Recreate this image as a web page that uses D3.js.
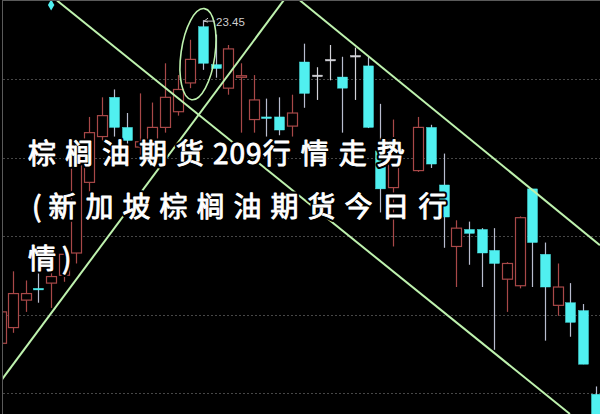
<!DOCTYPE html>
<html><head><meta charset="utf-8">
<script src="https://cdn.jsdelivr.net/npm/d3@7"></script>
<style>html,body{margin:0;padding:0;background:#000;overflow:hidden}</style>
</head><body>
<svg id="c" width="600" height="414"></svg>
<script>
// ---- data (price units) ----
const opens  = [20.98,21.10,21.31,21.40,21.44,21.50,21.67,22.21,22.56,22.86,22.63,22.48,22.53,22.63,22.75,22.97,23.40,23.11,22.93,23.02,22.69,22.71,22.71,22.64,23.13,23.03,23.15,23.015,23.18,23.10,22.45,22.17,null,22.30,22.63,22.19,21.72,21.85,21.85,21.69,21.47,21.42,22.16,21.66,21.27,21.29,21.23,20.59];
const highs  = [21.27,21.53,21.46,21.56,21.67,21.73,22.51,22.71,22.86,22.92,22.74,22.89,22.82,23.12,23.03,23.30,23.45,23.34,23.26,23.12,23.03,22.85,22.86,22.88,23.27,23.09,23.26,23.17,23.24,23.17,22.81,22.69,null,22.71,22.65,22.43,21.92,21.91,21.86,21.86,21.60,21.95,22.16,21.75,21.59,21.44,21.28,20.65];
const lows   = [20.97,21.06,21.22,21.29,21.25,21.45,21.59,22.08,22.53,22.56,22.47,22.42,22.47,22.59,22.72,22.93,23.07,23.01,22.88,22.59,22.59,22.56,22.57,22.56,22.78,22.84,22.99,22.59,22.84,22.625,21.98,21.72,null,22.29,22.32,21.71,21.41,21.58,21.41,20.93,21.22,21.40,21.41,21.00,21.19,21.03,20.82,20.39];
const closes = [21.22,21.36,21.36,21.395,21.49,21.66,22.36,22.59,22.72,22.63,22.53,22.52,22.63,22.86,22.92,23.15,23.12,23.08,23.23,23.025,22.84,22.705,22.61,22.74,22.89,23.03,23.15,22.93,23.18,22.63,22.16,22.53,null,22.63,22.35,21.945,21.86,21.82,21.67,21.59,21.59,21.94,21.75,21.41,21.41,21.14,20.82,20.39];
const gridValues = [23.0, 22.4, 21.8, 21.2, 20.6];
const highLabel = "23.45";
const highIndex = 16;
// trend lines in (index, price)
const trendLines = [
  [[4.46, 23.60], [44.98, 20.44]],
  [[23.66, 23.60], [47.35, 21.73]],
  [[-0.04, 20.684], [22.39, 23.604]]
];
const ellipseCenter = [15.6, 23.19];
const titleLines = [
  [["棕榈油期货", 9], ["209", 1], ["行情走势", 10]],
  [["(", 7], ["新加坡棕榈油期货今日行", 9]],
  [["情)", 6]]
];

// ---- scales ----
const W = 600, H = 414;
const x = d3.scaleLinear().domain([0, 47]).range([0.5, 595.5]);
const y = d3.scaleLinear().domain([20.6, 23.0]).range([393, 79]);
const bodyW = 10;

const svg = d3.select("#c");
svg.append("rect").attr("width", W).attr("height", H).attr("fill", "#000");
svg.append("defs").append("clipPath").attr("id", "plot")
  .append("rect").attr("x", 3).attr("y", 1).attr("width", W - 3).attr("height", H - 1);

// frame
svg.append("line").attr("x1", 2).attr("x2", W).attr("y1", 0.5).attr("y2", 0.5).attr("stroke", "#5a5a5a");
svg.append("line").attr("x1", 2.5).attr("x2", 2.5).attr("y1", 0).attr("y2", H).attr("stroke", "#5a5a5a");

const g = svg.append("g").attr("clip-path", "url(#plot)");

// grid
g.selectAll("line.grid").data(gridValues).join("line")
  .attr("class", "grid")
  .attr("x1", 3).attr("x2", W)
  .attr("y1", d => Math.round(y(d)) + 0.5).attr("y2", d => Math.round(y(d)) + 0.5)
  .attr("stroke", "#474747").attr("stroke-dasharray", "2,2");

// candles
const data = d3.range(opens.length).map(i => ({i, o: opens[i], h: highs[i], l: lows[i], c: closes[i]}))
  .filter(d => d.o != null);
const RED = "#a84848", CYAN = "#50f0f0", CWICK = "#b8bccf", WHITE = "#d2d2d8";
function colorOf(d) { return d.c > d.o ? "up" : (d.c < d.o ? "down" : "flat"); }

const cg = g.selectAll("g.candle").data(data).join("g").attr("class", "candle");
cg.append("line")
  .attr("x1", d => Math.round(x(d.i)) + 0.5).attr("x2", d => Math.round(x(d.i)) + 0.5)
  .attr("y1", d => y(d.h)).attr("y2", d => y(d.l))
  .attr("stroke", d => ({up: RED, down: CWICK, flat: WHITE})[colorOf(d)])
  .attr("stroke-width", 1.2);
cg.append("rect")
  .attr("x", d => Math.round(x(d.i)) - bodyW / 2 + 0.5)
  .attr("width", bodyW)
  .attr("y", d => y(Math.max(d.o, d.c)))
  .attr("height", d => Math.max(1.6, Math.abs(y(d.o) - y(d.c))))
  .attr("fill", d => ({up: "#000", down: CYAN, flat: WHITE})[colorOf(d)])
  .attr("stroke", d => ({up: RED, down: CYAN, flat: WHITE})[colorOf(d)])
  .attr("stroke-width", d => colorOf(d) === "up" ? 1.2 : 0.4);

// trend lines
const lineGen = d3.line().x(p => x(p[0])).y(p => y(p[1]));
g.selectAll("path.trend").data(trendLines).join("path")
  .attr("class", "trend").attr("d", lineGen)
  .attr("fill", "none").attr("stroke", "#bef2ae").attr("stroke-width", 2);

// ellipse
g.append("ellipse")
  .attr("cx", 0).attr("cy", 0).attr("rx", 17).attr("ry", 46)
  .attr("transform", `translate(${x(ellipseCenter[0])},${y(ellipseCenter[1])}) rotate(8)`)
  .attr("fill", "none").attr("stroke", "#bef2ae").attr("stroke-width", 1.6);

// high label
const hx = x(highIndex), hy = y(highs[highIndex]);
g.append("path")
  .attr("d", `M${hx + 1},${hy + 1} L${hx + 5},${hy - 2} M${hx + 1},${hy + 1} L${hx + 5},${hy + 2} M${hx + 1},${hy + 1} L${hx + 12},${hy + 1}`)
  .attr("stroke", "#c8c8c8").attr("stroke-width", 1).attr("fill", "none");
g.append("text").attr("x", hx + 13).attr("y", hy + 6)
  .attr("fill", "#cfcfcf").attr("font-family", "Liberation Sans, Arial, sans-serif")
  .attr("font-size", 11.5).text(highLabel);

// indicator diamond at top
g.append("path").attr("d", d3.symbol(d3.symbolDiamond, 36)())
  .attr("transform", `translate(${x(4)},5)`).attr("fill", CYAN);

// title text overlay: black halo layer, then white layer with slight thickening
const baselines = [163.5, 216.5, 269];
const starts = [28, 32, 28];
[{stroke: "#000", sw: 5, fill: "#000"}, {stroke: "#fff", sw: 0.9, fill: "#fff"}].forEach(layer => {
  titleLines.forEach((segs, li) => {
    const t = svg.append("text")
      .attr("x", starts[li]).attr("y", baselines[li])
      .attr("font-family", "Noto Sans CJK SC, sans-serif")
      .attr("font-size", 28)
      .attr("fill", layer.fill)
      .attr("stroke", layer.stroke).attr("stroke-width", layer.sw).attr("stroke-linejoin", "round");
    segs.forEach(([s, ls]) => t.append("tspan").attr("letter-spacing", ls).text(s));
  });
});
</script>
</body></html>
